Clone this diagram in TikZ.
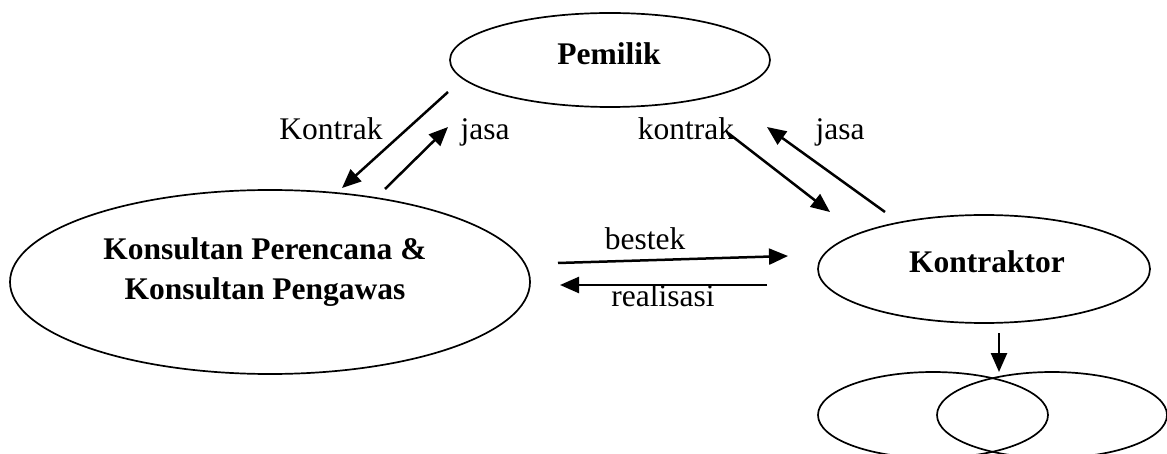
\documentclass[tikz,border=0pt]{standalone}
\usepackage{fontspec}
\setmainfont{Liberation Serif}
\usetikzlibrary{shapes.geometric,arrows.meta}
\begin{document}
\begin{tikzpicture}[x=1pt,y=-1pt,
  oval/.style={draw,ellipse,line width=1.7pt,inner sep=0pt},
  lbl/.style={font=\fontsize{31.5}{38}\selectfont,inner sep=0pt,anchor=base},
  title/.style={font=\fontsize{31.5}{38}\selectfont\bfseries,inner sep=0pt,anchor=base},
  flow/.style={line width=2.5pt,-{Triangle[length=19pt,width=16pt]}}]
\useasboundingbox (0,0) rectangle (1167,454);
% parties
\node[oval,minimum width=320pt,minimum height=94pt] (own) at (610,60) {};
\node[title] (townr) at (609,65) {Pemilik};
\node[oval,minimum width=520pt,minimum height=184pt] (cons) at (270,282) {};
\node[title] (tcons1) at (265,260) {Konsultan Perencana \&};
\node[title] (tcons2) at (265,300) {Konsultan Pengawas};
\node[oval,minimum width=332pt,minimum height=108pt] (ktr) at (984,269) {};
\node[title] (tktr) at (987,273) {Kontraktor};
\node[oval,minimum width=230pt,minimum height=86pt] (sa) at (933,415) {};
\node[oval,minimum width=230pt,minimum height=86pt] (sb) at (1052,415) {};
% connector end points
\coordinate (k1) at (448,92);  \coordinate (k2) at (342,188);
\coordinate (j1) at (385,189); \coordinate (j2) at (448,127);
\coordinate (c1) at (728,133); \coordinate (c2) at (830,212);
\coordinate (r1) at (885,212); \coordinate (r2) at (767,127);
\coordinate (b1) at (558,263); \coordinate (b2) at (788,256);
\coordinate (e1) at (767,285); \coordinate (e2) at (560,285);
\coordinate (d1) at (999,333); \coordinate (d2) at (999,372);
\draw[flow] (k1) -- (k2);
\draw[flow] (j1) -- (j2);
\draw[flow] (c1) -- (c2);
\draw[flow] (r1) -- (r2);
\draw[flow] (b1) -- (b2);
\draw[flow] (e1) -- (e2);
\draw[flow] (d1) -- (d2);
% labels
\node[lbl] (lk) at (331,140) {Kontrak};
\node[lbl] (lj) at (485,140) {jasa};
\node[lbl] (lc) at (686,140) {kontrak};
\node[lbl] (lr) at (840,140) {jasa};
\node[lbl] (lb) at (645,250) {bestek};
\node[lbl] (le) at (663,307) {realisasi};
\end{tikzpicture}
\end{document}
